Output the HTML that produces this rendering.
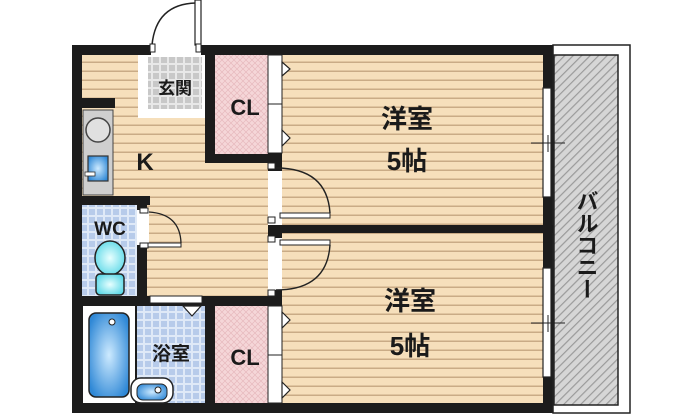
<!DOCTYPE html>
<html><head><meta charset="utf-8"><style>
html,body{margin:0;padding:0;background:#fff;width:700px;height:415px;overflow:hidden}
svg{display:block}
text{font-family:"Liberation Sans","Noto Sans CJK JP",sans-serif;font-weight:bold;fill:#1a1a1a}
</style></head><body>
<svg width="700" height="415" viewBox="0 0 700 415" xmlns="http://www.w3.org/2000/svg">
<defs>
<pattern id="floor" width="10" height="9" patternUnits="userSpaceOnUse">
<rect width="10" height="9" fill="#f6dfbb"/><rect y="7.5" width="10" height="1.5" fill="#c9ab86"/>
</pattern>
<pattern id="tile" width="8" height="8" patternUnits="userSpaceOnUse">
<rect width="8" height="8" fill="#e8e8e8"/><rect x="1" y="1" width="6" height="6" fill="#c8c8c8"/>
</pattern>
<pattern id="btile" width="8" height="8" patternUnits="userSpaceOnUse">
<rect width="8" height="8" fill="#dfe9f7"/><rect x="1" y="1" width="6" height="6" fill="#b7cbea"/>
</pattern>
<pattern id="pink" width="6" height="6" patternUnits="userSpaceOnUse">
<rect width="6" height="6" fill="#f5d6d8"/><path d="M0 6L6 0M0 0L6 6" stroke="#e6b9bd" stroke-width="0.7"/>
</pattern>
<pattern id="hatch" width="6" height="6" patternUnits="userSpaceOnUse" patternTransform="rotate(45)">
<rect width="6" height="6" fill="#d6d6d6"/><rect width="1.2" height="6" fill="#9a9a9a"/>
</pattern>
<radialGradient id="blue" cx="0.5" cy="0.5" r="0.6"><stop offset="0" stop-color="#cdeaff"/><stop offset="1" stop-color="#2f88d6"/></radialGradient>
<radialGradient id="cyan" cx="0.5" cy="0.5" r="0.6"><stop offset="0" stop-color="#e8ffff"/><stop offset="1" stop-color="#55d6e6"/></radialGradient>
</defs>

<rect x="72" y="45" width="481" height="368" fill="#1c1c1c"/>
<rect x="553" y="45" width="77" height="368" fill="#fff" stroke="#222" stroke-width="1.5"/>
<rect x="554" y="55" width="64" height="350" fill="url(#hatch)" stroke="#222" stroke-width="1.5"/>

<rect x="82" y="55" width="186" height="242" fill="url(#floor)"/>
<rect x="282" y="55" width="261" height="170" fill="url(#floor)"/>
<rect x="282" y="233" width="261" height="170" fill="url(#floor)"/>

<!-- genkan -->
<rect x="138" y="55" width="67" height="63" fill="#fff"/>
<rect x="148" y="57" width="54" height="52" fill="url(#tile)"/>
<rect x="151" y="45" width="50" height="10" fill="#fff"/>
<path d="M152 45 Q156 4 196 3" fill="none" stroke="#222" stroke-width="1.5"/>
<rect x="195" y="0" width="6" height="45" fill="#fff" stroke="#222" stroke-width="1.2"/>
<rect x="150" y="44" width="5" height="8" fill="#fff" stroke="#222" stroke-width="1"/>
<rect x="196" y="44" width="5" height="8" fill="#fff" stroke="#222" stroke-width="1"/>
<text x="175" y="94" font-size="17" text-anchor="middle">玄関</text>

<!-- CL top -->
<rect x="205" y="55" width="77" height="108" fill="#1c1c1c"/>
<rect x="215" y="55" width="53" height="99" fill="url(#pink)"/>
<rect x="268" y="55" width="14" height="98" fill="#fff" stroke="#222" stroke-width="1"/>
<line x1="268" y1="104" x2="282" y2="104" stroke="#222"/>
<path d="M282 62 L290 69 L282 76 Z M282 130 L290 138 L282 146 Z" fill="#fff" stroke="#222" stroke-width="1.2"/>
<text x="245" y="115" font-size="22" text-anchor="middle">CL</text>

<!-- sink -->
<rect x="72" y="98" width="43" height="10" fill="#1c1c1c"/>
<rect x="83" y="110" width="30" height="85" fill="#cfcfcf" stroke="#444" stroke-width="1"/>
<circle cx="98" cy="130" r="12" fill="#e0e0e0" stroke="#444" stroke-width="1.5"/>
<rect x="88" y="156" width="20" height="25" fill="url(#blue)" stroke="#333" stroke-width="1.2"/>
<rect x="85" y="172" width="10" height="4" fill="#fff" stroke="#333" stroke-width="0.8"/>
<text x="145" y="170" font-size="24" text-anchor="middle">K</text>

<!-- WC -->
<rect x="72" y="196" width="78" height="9" fill="#1c1c1c"/>
<rect x="137" y="196" width="10" height="110" fill="#1c1c1c"/>
<rect x="82" y="205" width="55" height="92" fill="url(#btile)"/>
<rect x="137" y="210" width="12" height="35" fill="#fff"/>
<rect x="140" y="208" width="8" height="5" fill="#fff" stroke="#222"/>
<rect x="140" y="243" width="8" height="5" fill="#fff" stroke="#222"/>
<rect x="148" y="243" width="33" height="4" fill="#fff" stroke="#222"/>
<path d="M149 212 Q180 214 181 243" fill="none" stroke="#222" stroke-width="1.3"/>
<text x="110" y="235" font-size="19" text-anchor="middle">WC</text>
<ellipse cx="110" cy="258" rx="15" ry="17" fill="url(#cyan)" stroke="#222" stroke-width="1.5"/>
<rect x="96" y="274" width="28" height="21" rx="4" fill="url(#cyan)" stroke="#222" stroke-width="1.5"/>

<!-- bath row -->
<rect x="72" y="296" width="210" height="10" fill="#1c1c1c"/>
<rect x="150" y="296" width="52" height="7" fill="#fff" stroke="#222" stroke-width="1"/>
<rect x="83" y="306" width="52" height="97" fill="#fff"/>
<rect x="89" y="313" width="40" height="84" rx="7" fill="url(#blue)" stroke="#222" stroke-width="1.5"/>
<circle cx="112" cy="322" r="3" fill="#fff" stroke="#222"/>
<rect x="137" y="306" width="68" height="97" fill="url(#btile)"/>
<path d="M183 306 L192 316 L201 306 Z" fill="#fff" stroke="#222" stroke-width="1.2"/>
<rect x="131" y="378" width="42" height="25" rx="10" fill="#fff" stroke="#222" stroke-width="1.5"/>
<rect x="137" y="384" width="30" height="16" rx="6" fill="url(#blue)" stroke="#222" stroke-width="1"/>
<circle cx="158" cy="390" r="3" fill="#fff" stroke="#222"/>
<text x="171" y="360" font-size="19" text-anchor="middle">浴室</text>
<rect x="205" y="296" width="10" height="110" fill="#1c1c1c"/>
<rect x="215" y="306" width="53" height="97" fill="url(#pink)"/>
<rect x="268" y="306" width="14" height="97" fill="#fff" stroke="#222" stroke-width="1"/>
<line x1="268" y1="355" x2="282" y2="355" stroke="#222"/>
<path d="M282 312 L290 320 L282 328 Z M282 382 L290 390 L282 398 Z" fill="#fff" stroke="#222" stroke-width="1.2"/>
<text x="245" y="365" font-size="22" text-anchor="middle">CL</text>

<rect x="268" y="153" width="14" height="143" fill="#1c1c1c"/>
<rect x="268" y="171" width="14" height="54" fill="#fff"/>
<rect x="268" y="238" width="14" height="52" fill="#fff"/>
<rect x="268" y="163" width="7" height="6" fill="#fff" stroke="#222"/>
<rect x="268" y="290" width="7" height="6" fill="#fff" stroke="#222"/>
<rect x="282" y="225" width="271" height="8" fill="#1c1c1c"/>
<rect x="280" y="213" width="50" height="5" fill="#fff" stroke="#222"/>
<rect x="280" y="240" width="50" height="5" fill="#fff" stroke="#222"/>
<path d="M276 168 Q327 168 330 213" fill="none" stroke="#222" stroke-width="1.4"/>
<path d="M276 290 Q327 290 330 245" fill="none" stroke="#222" stroke-width="1.4"/>
<rect x="268" y="217" width="7" height="6" fill="#fff" stroke="#222"/>
<rect x="268" y="236" width="7" height="6" fill="#fff" stroke="#222"/>

<rect x="543" y="88" width="8" height="109" fill="#fff" stroke="#222" stroke-width="1.2"/>
<rect x="543" y="268" width="8" height="109" fill="#fff" stroke="#222" stroke-width="1.2"/>
<line x1="531" y1="143" x2="565" y2="143" stroke="#222"/>
<line x1="548" y1="135" x2="548" y2="152" stroke="#222"/>
<line x1="531" y1="323" x2="565" y2="323" stroke="#222"/>
<line x1="548" y1="315" x2="548" y2="332" stroke="#222"/>

<text x="407" y="128" font-size="26" text-anchor="middle">洋室</text>
<text x="407" y="170" font-size="26" text-anchor="middle">5帖</text>
<text x="410" y="310" font-size="26" text-anchor="middle">洋室</text>
<text x="410" y="355" font-size="26" text-anchor="middle">5帖</text>
<text x="586" y="190" font-size="22" text-anchor="start" style="writing-mode:vertical-rl">バルコニー</text>
</svg>
</body></html>
